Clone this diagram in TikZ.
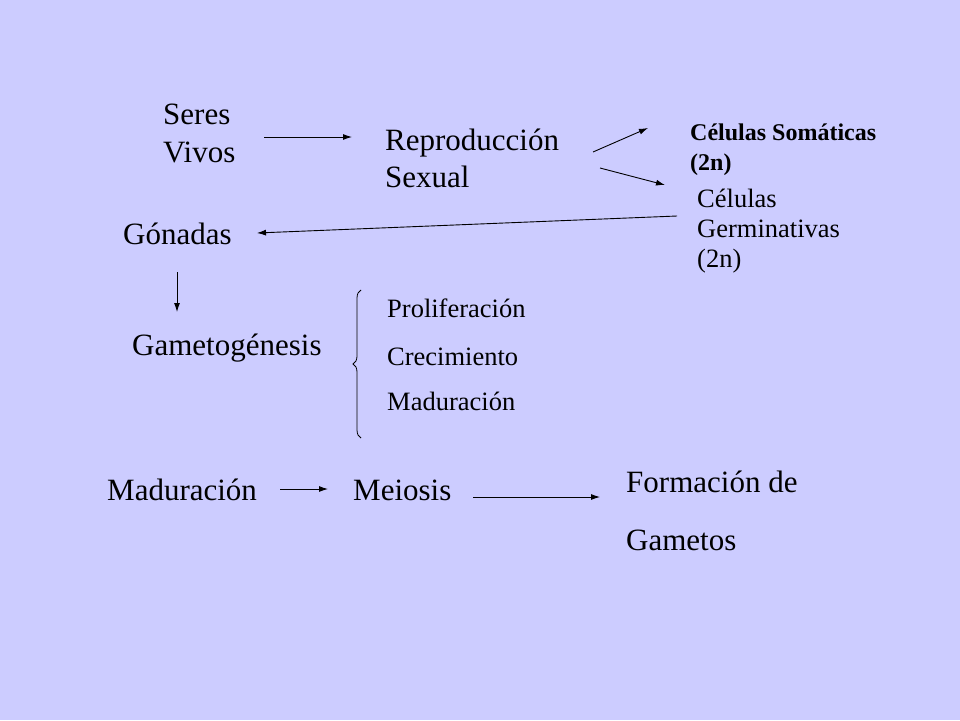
\documentclass[tikz,border=0pt]{standalone}
\usepackage{fontspec}
\setmainfont{Liberation Serif}
\usetikzlibrary{arrows.meta,calc,decorations.pathreplacing}
\definecolor{bg}{RGB}{204,204,255}
\begin{document}
\begin{tikzpicture}[x=1pt,y=-1pt,
  big/.style={inner sep=0pt, anchor=base west, align=left, font=\fontsize{31}{38}\selectfont},
  small/.style={inner sep=0pt, anchor=base west, align=left, font=\fontsize{26.5}{30}\selectfont},
  arr/.style={-{Latex[length=9pt,width=6pt]}, line width=0.9pt}]
\fill[bg] (0,0) rectangle (960,720);
\useasboundingbox (0,0) rectangle (960,720);

\node[big] (seres) at (163,162) {Seres\\Vivos};
\node[big, font=\fontsize{31}{37}\selectfont] (repro) at (385,187) {Reproducción\\Sexual};
\node[small, font=\bfseries\fontsize{24}{30}\selectfont] (soma) at (690,170) {Células Somáticas\\(2n)};
\node[small] (germ) at (697,267) {Células\\Germinativas\\(2n)};
\node[big] (gon) at (123,244) {Gónadas};
\node[big] (gameto) at (132,355) {Gametogénesis};
\node[small] (prol) at (387,317) {Proliferación};
\node[small] (crec) at (387,365) {Crecimiento};
\node[small] (madu1) at (387,410) {Maduración};
\node[big] (madu) at (107,500) {Maduración};
\node[big] (mei) at (353,500) {Meiosis};
\node[big, font=\fontsize{31}{58}\selectfont] (form) at (626,550) {Formación de\\Gametos};

\draw[arr] ([xshift=101pt,yshift=25pt]seres.base west) -- ([xshift=-33pt,yshift=50pt]repro.base west);
\draw[arr] ([xshift=208pt,yshift=35pt]repro.base west) -- ([xshift=-42pt,yshift=42pt]soma.base west);
\draw[arr] ([xshift=215pt,yshift=19pt]repro.base west) -- ([xshift=-32pt,yshift=82pt]germ.base west);
\draw[arr] ([xshift=-20pt,yshift=51pt]germ.base west) -- ([xshift=134pt,yshift=11pt]gon.base west);
\draw[arr] ([xshift=54pt,yshift=-28pt]gon.base west) -- ([xshift=45pt,yshift=43pt]gameto.base west);
\draw[line width=0.8pt, decorate, decoration={brace, amplitude=8pt}]
  ([xshift=-26pt,yshift=-28pt]madu1.base west) -- ([xshift=-26pt,yshift=27pt]prol.base west);
\draw[arr] ([xshift=173pt,yshift=11pt]madu.base west) -- ([xshift=-25pt,yshift=11pt]mei.base west);
\draw[arr] ([xshift=120pt,yshift=3pt]mei.base west) -- ([xshift=-26pt,yshift=53pt]form.base west);
\end{tikzpicture}
\end{document}
